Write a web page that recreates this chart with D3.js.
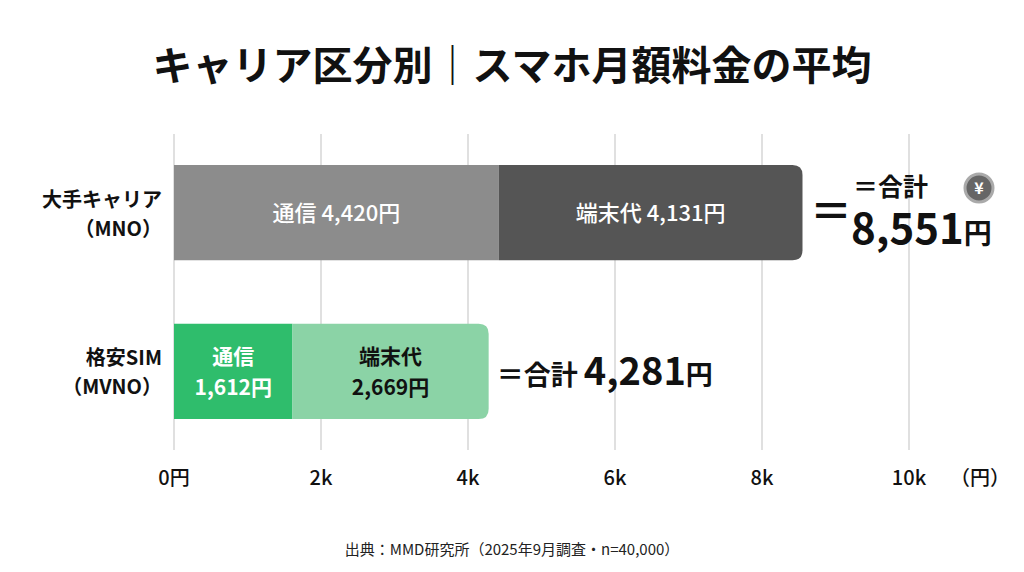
<!DOCTYPE html>
<html><head><meta charset="utf-8">
<script src="https://cdn.jsdelivr.net/npm/d3@7"></script>
<style>
body{margin:0;background:#fff;font-family:"Noto Sans CJK JP","Noto Sans",sans-serif;}
text{font-family:"Noto Sans CJK JP","Noto Sans",sans-serif;}
</style></head><body>
<svg id="chart" width="1024" height="572"></svg>
<script>
"use strict";
const CATEGORIES = ["大手キャリア\n（MNO）", "格安SIM\n（MVNO）"];
const COMM = [4420, 1612];
const DEVICE = [4131, 2669];
const TICKS = [0, 2000, 4000, 6000, 8000, 10000];
const TICK_LABELS = ["0円", "2k", "4k", "6k", "8k", "10k"];
const COLORS = [["#8c8c8c", "#555555"], ["#2fbd6c", "#8bd3a6"]];

const svg = d3.select("#chart");
const x = d3.scaleLinear([0, 10000], [174, 909]);
const y = d3.scaleBand(d3.range(2), [165, 419]).paddingInner(0.4).paddingOuter(0);

svg.append("text").attr("x", 512).attr("y", 80).attr("text-anchor", "middle")
  .attr("font-size", 40).attr("font-weight", 700).attr("fill", "#111")
  .text("キャリア区分別｜スマホ月額料金の平均");

// grid
svg.append("g").selectAll("line").data(TICKS).join("line")
  .attr("x1", (d) => x(d)).attr("x2", (d) => x(d)).attr("y1", 134).attr("y2", 450)
  .attr("stroke", "#d6d6d6").attr("stroke-width", 1.5);

svg.append("g").selectAll("text").data(TICKS).join("text")
  .attr("x", (d) => x(d)).attr("y", 485).attr("text-anchor", "middle")
  .attr("font-size", 20).attr("font-weight", 500).attr("fill", "#111").text((d, i) => TICK_LABELS[i]);
svg.append("text").attr("x", 950).attr("y", 485).attr("font-size", 20).attr("font-weight", 500).attr("fill", "#111").text("（円）");

// bars
const r = 10;
const fmt = d3.format(",");
d3.range(2).forEach((i) => {
  const y0 = y(i), h = y.bandwidth();
  const xa = x(0), xb = x(COMM[i]), xc = x(COMM[i] + DEVICE[i]);
  svg.append("rect").attr("x", xa).attr("y", y0).attr("width", xb - xa).attr("height", h).attr("fill", COLORS[i][0]);
  svg.append("path").attr("fill", COLORS[i][1]).attr("d",
    `M${xb},${y0}H${xc - r}Q${xc},${y0} ${xc},${y0 + r}V${y0 + h - r}Q${xc},${y0 + h} ${xc - r},${y0 + h}H${xb}Z`);
  const lines = CATEGORIES[i].split("\n");
  lines.forEach((l, k) => svg.append("text").attr("x", 162).attr("y", y0 + h / 2 - 6 + k * 29)
    .attr("text-anchor", "end").attr("font-size", 20).attr("font-weight", 700).attr("fill", "#111").text(l));
  const tot = COMM[i] + DEVICE[i];
  if (i === 0) {
    svg.append("text").attr("x", (xa + xb) / 2).attr("y", y0 + h / 2 + 8).attr("text-anchor", "middle")
      .attr("font-size", 22).attr("font-weight", 500).attr("fill", "#fff").text(`通信 ${fmt(COMM[i])}円`);
    svg.append("text").attr("x", (xb + xc) / 2).attr("y", y0 + h / 2 + 8).attr("text-anchor", "middle")
      .attr("font-size", 22).attr("font-weight", 500).attr("fill", "#fff").text(`端末代 ${fmt(DEVICE[i])}円`);
    svg.append("text").attr("x", 810).attr("y", y0 + h / 2 + 14).attr("font-size", 42).attr("font-weight", 700).attr("fill", "#111").text("＝");
    svg.append("text").attr("x", 853).attr("y", y0 + 31).attr("font-size", 25).attr("font-weight", 700).attr("fill", "#111").text("＝合計");
    svg.append("text").attr("x", 851).attr("y", y0 + 79).attr("font-size", 42).attr("font-weight", 700).attr("fill", "#111")
      .text(fmt(tot)).append("tspan").attr("font-size", 28).text("円");
    const g = svg.append("g").attr("transform", `translate(979,${y0 + 23})`);
    g.append("circle").attr("r", 14).attr("fill", "#666").attr("stroke", "#aaa").attr("stroke-width", 3);
    g.append("text").attr("y", 6).attr("text-anchor", "middle").attr("font-size", 16).attr("font-weight", 700).attr("fill", "#fff").text("¥");
  } else {
    [[COMM[i], (xa + xb) / 2, "通信", "#fff"], [DEVICE[i], (xb + xc) / 2, "端末代", "#111"]].forEach(([v, cx, lab, c]) => {
      svg.append("text").attr("x", cx).attr("y", y0 + h / 2 - 7).attr("text-anchor", "middle")
        .attr("font-size", 21).attr("font-weight", 700).attr("fill", c).text(lab);
      svg.append("text").attr("x", cx).attr("y", y0 + h / 2 + 24).attr("text-anchor", "middle")
        .attr("font-size", 21).attr("font-weight", 700).attr("fill", c).text(`${fmt(v)}円`);
    });
    svg.append("text").attr("x", xc + 8).attr("y", y0 + h / 2 + 14).attr("font-size", 27).attr("font-weight", 700).attr("fill", "#111")
      .text("＝合計 ").append("tspan").attr("font-size", 38).text(fmt(tot))
      .append("tspan").attr("font-size", 27).text("円");
  }
});

svg.append("text").attr("x", 512).attr("y", 555).attr("text-anchor", "middle").attr("font-size", 15).attr("fill", "#222")
  .text("出典：MMD研究所（2025年9月調査・n=40,000）");
</script></body></html>
